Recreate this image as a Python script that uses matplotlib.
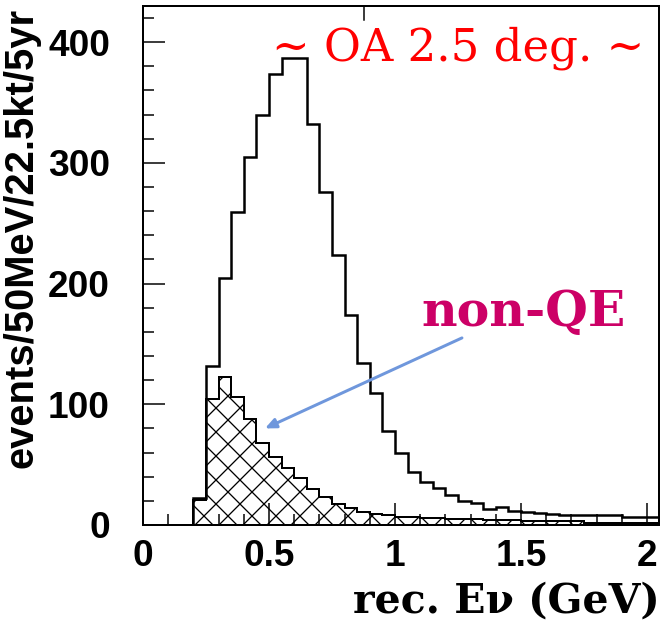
import numpy as np
import matplotlib
matplotlib.use("Agg")
import matplotlib.pyplot as plt
from matplotlib.ticker import MultipleLocator, FixedLocator, FixedFormatter

# bin edges, 50 MeV bins from 0.2 to 2.05 GeV
edges = np.round(np.arange(0.20, 2.0501, 0.05), 2)

# all events per bin
total = [22, 132, 205, 259, 305, 340, 374, 387, 387, 332,
         276, 224, 174, 134, 109, 78, 60, 44, 36, 31,
         25, 20, 18, 13, 15, 12, 11, 10, 9, 8,
         8, 8, 8, 8, 7, 7, 7]

# non-QE component per bin
nonqe = [21, 104, 123, 106, 88, 68, 56, 47, 39, 30,
         23, 17, 14, 11, 9, 8, 7, 7, 6, 6,
         5, 5, 5, 4, 4, 4, 3, 3, 3, 3,
         3, 2, 2, 2, 2, 2, 2]

xticks = [0, 0.5, 1, 1.5, 2]
xticklabels = ["0", "0.5", "1", "1.5", "2"]
yticks = [0, 100, 200, 300, 400]

plt.rcParams['hatch.linewidth'] = 1.3

fig = plt.figure(figsize=(664 / 72, 628 / 72), dpi=72)
ax = fig.add_axes([143 / 664, 1 - 525 / 628, (659 - 143) / 664, (525 - 6) / 628])

# hatched non-QE part
ax.stairs(nonqe, edges, fill=True, facecolor='white', edgecolor='black',
          hatch='x', linewidth=0)
ax.stairs(nonqe, edges, color='black', linewidth=2)
# total
ax.stairs(total, edges, color='black', linewidth=2.5, baseline=0)

ax.set_xlim(0, 2.048)
ax.set_ylim(0, 430)

for s in ax.spines.values():
    s.set_linewidth(2)

ax.xaxis.set_major_locator(FixedLocator(xticks))
ax.xaxis.set_major_formatter(FixedFormatter(xticklabels))
ax.xaxis.set_minor_locator(MultipleLocator(0.1))
ax.yaxis.set_major_locator(FixedLocator(yticks))
ax.yaxis.set_minor_locator(MultipleLocator(20))
ax.tick_params(which='both', direction='in', top=False, right=False, width=1.5)
ax.tick_params(which='major', length=22)
ax.tick_params(which='minor', length=11)
ax.tick_params(axis='y', which='major', pad=33)
ax.tick_params(axis='x', which='major', pad=14)
for lab in ax.get_xticklabels() + ax.get_yticklabels():
    lab.set_fontfamily('Liberation Sans')
    lab.set_fontweight('bold')
    lab.set_fontsize(37)

fig.text(22 / 664, 1 - 238 / 628, "events/50MeV/22.5kt/5yr", rotation=90,
         ha='center', va='center', fontsize=40, fontweight='bold',
         family='Liberation Sans')

fig.text(660 / 664, 1 - 613 / 628, "rec. E\u03bd (GeV)", ha='right', va='baseline',
         fontsize=41, fontweight='bold', family='DejaVu Serif')

ax.text(1.25, 385, "~ OA 2.5 deg. ~", ha='center', va='baseline',
        color='red', fontsize=45, family='DejaVu Serif')

ax.text(1.512, 165, "non-QE", ha='center', va='baseline',
        color='#cc0066', fontsize=49, fontweight='bold', family='DejaVu Serif')

ax.annotate("", xy=(0.484, 80), xytext=(1.266, 155),
            arrowprops=dict(arrowstyle='-|>,head_length=0.9,head_width=0.4',
                            color='#6f97dc', lw=3, shrinkA=0, shrinkB=0))

# edge of the clipped stats box at the top
ax.plot([0.877, 0.877], [418, 430], color='black', linewidth=1.5)

fig.savefig("out.png", dpi=72)
